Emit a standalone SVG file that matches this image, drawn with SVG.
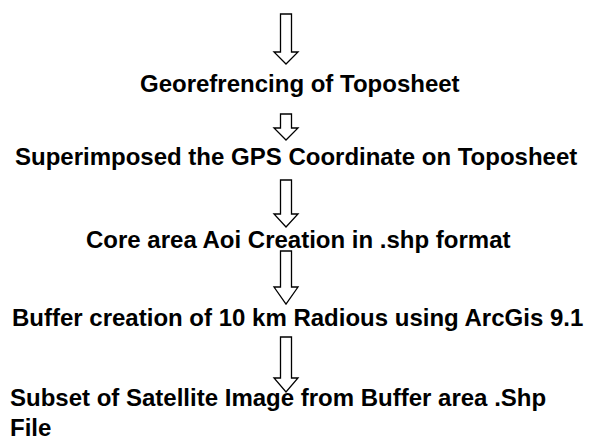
<svg xmlns="http://www.w3.org/2000/svg" width="592" height="444" viewBox="0 0 592 444">
<style>
.t{font-family:"Liberation Sans",Arial,sans-serif;font-weight:bold;font-size:24px;fill:#000}
.a{fill:#fff;stroke:#000;stroke-width:1.3;stroke-linejoin:miter}
</style>
<rect width="592" height="444" fill="#fff"/>
<g id="connectors">
<path class="a" d="M280.5,14 H291.5 V52 H298 L286,64 L274,52 H280.5 Z"/>
<path class="a" d="M280.5,114 H291.5 V128 H298 L286,140 L274,128 H280.5 Z"/>
<path class="a" d="M280.5,180 H291.5 V214 H298 L286,227 L274,214 H280.5 Z"/>
<path class="a" d="M280.5,251 H291.5 V287 H298 L286,304 L274,287 H280.5 Z"/>
<path class="a" d="M280.5,337 H291.5 V378 H298 L286,392 L274,378 H280.5 Z"/>
</g>
<g id="node-georef"><text class="t" x="140" y="92">Georefrencing of Toposheet</text></g>
<g id="node-superimpose"><text class="t" x="15" y="165">Superimposed the GPS Coordinate on Toposheet</text></g>
<g id="node-core"><text class="t" x="86" y="248">Core area Aoi Creation in .shp format</text></g>
<g id="node-buffer"><text class="t" x="12" y="326">Buffer creation of 10 km Radious using ArcGis 9.1</text></g>
<g id="node-subset"><text class="t" x="10" y="406">Subset of Satellite Image from Buffer area .Shp</text><text class="t" x="10" y="436">File</text></g>
</svg>
